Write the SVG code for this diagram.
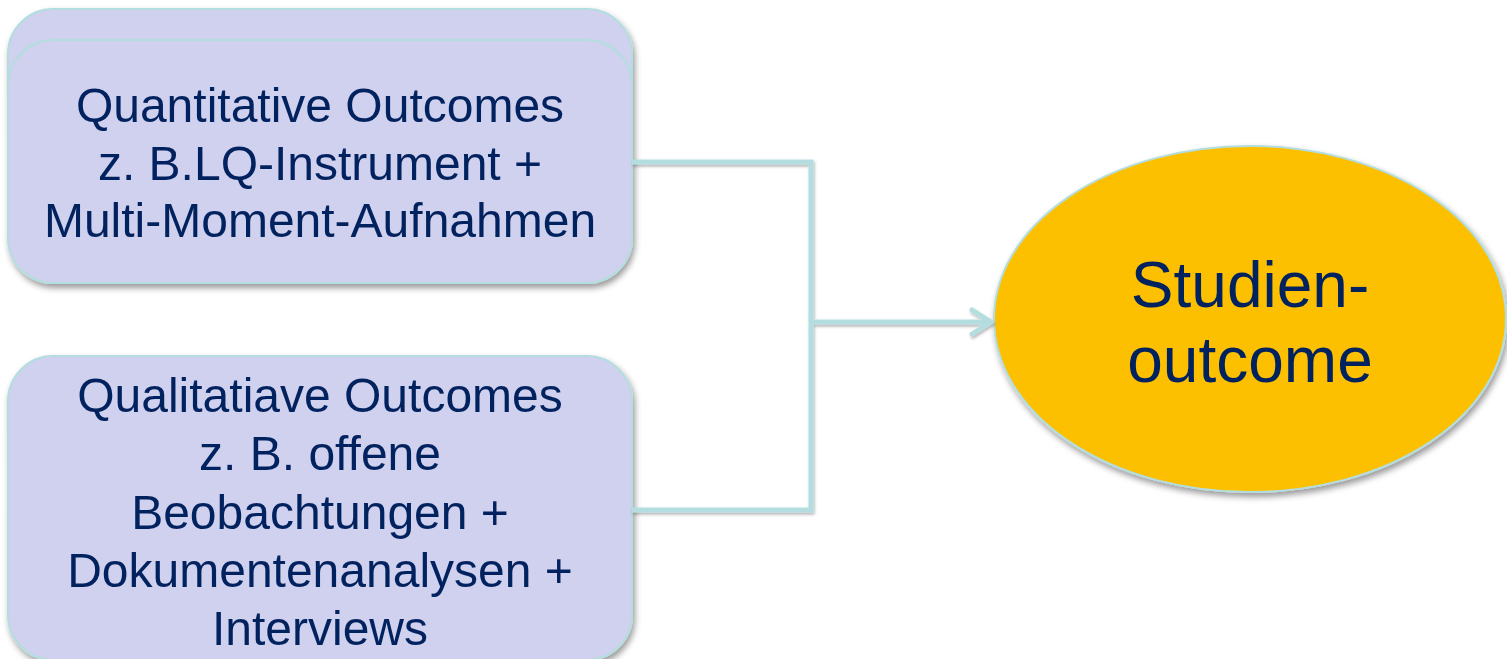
<svg xmlns="http://www.w3.org/2000/svg" width="1507" height="659" viewBox="0 0 1507 659">
  <defs>
    <filter id="sh" x="-10%" y="-10%" width="125%" height="130%">
      <feDropShadow dx="2" dy="4" stdDeviation="3" flood-color="#000" flood-opacity="0.4"/>
    </filter>
    <filter id="lsh" x="-10%" y="-10%" width="125%" height="130%">
      <feDropShadow dx="1" dy="2" stdDeviation="1.5" flood-color="#000" flood-opacity="0.3"/>
    </filter>
    <marker id="arr" markerWidth="26" markerHeight="30" refX="22" refY="15" orient="auto" markerUnits="userSpaceOnUse" viewBox="0 0 26 30">
      <path d="M3,3 L22,15 L3,27" fill="none" stroke="#b4dde0" stroke-width="5" stroke-linecap="round" stroke-linejoin="round"/>
    </marker>
    <style>
      .box { fill: #cfd1ee; stroke: #b4dde0; stroke-width: 2; }
      .t { font-family: "Liberation Sans", Arial, sans-serif; fill: #06215e; text-anchor: middle; }
      .bt { font-size: 48px; }
      .et { font-size: 64px; }
      .conn { fill: none; stroke: #b4dde0; stroke-width: 5; }
    </style>
  </defs>
  <rect width="1507" height="659" fill="#ffffff"/>

  <g id="node-quant" filter="url(#sh)">
    <rect class="box" x="8" y="9" width="624" height="244" rx="45"/>
    <rect class="box" x="8" y="40" width="624" height="243" rx="45"/>
    <text class="t bt" x="320" y="122">Quantitative Outcomes</text>
    <text class="t bt" x="320" y="180">z. B.LQ-Instrument +</text>
    <text class="t bt" x="320" y="237">Multi-Moment-Aufnahmen</text>
  </g>

  <g id="node-qual" filter="url(#sh)">
    <rect class="box" x="8" y="356" width="624" height="304" rx="45"/>
    <text class="t bt" x="320" y="412">Qualitatiave Outcomes</text>
    <text class="t bt" x="320" y="470">z. B. offene</text>
    <text class="t bt" x="320" y="529">Beobachtungen +</text>
    <text class="t bt" x="320" y="587">Dokumentenanalysen +</text>
    <text class="t bt" x="320" y="645">Interviews</text>
  </g>

  <g id="node-studien" filter="url(#sh)">
    <ellipse cx="1250" cy="319" rx="256" ry="173" fill="#fdc000" stroke="#b4dde0" stroke-width="2"/>
    <text class="t et" x="1250" y="307">Studien-</text>
    <text class="t et" x="1250" y="382">outcome</text>
  </g>

  <g id="connectors" filter="url(#lsh)">
    <path class="conn" d="M632,162 H811 V510 H632"/>
    <path class="conn" d="M811,322 H991" marker-end="url(#arr)"/>
  </g>
</svg>
